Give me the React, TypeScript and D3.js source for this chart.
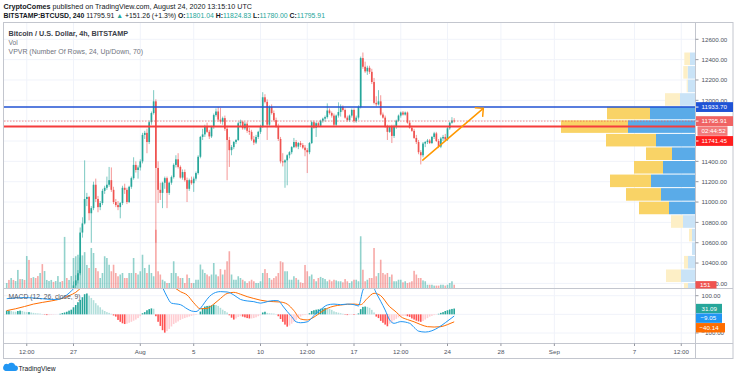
import React from 'react';
import * as d3 from 'd3';

// ---------- DATA ----------
const startTime = Date.UTC(2020, 6, 22, 0);
const barMs = 4 * 3600 * 1000;

const opens = [
  9380,9420,9400,9460,9440,9480,9540,9520,9570,9550,9640,9610,9600,9620,9580,9560,9590,9530,9550,9580,9600,9640,9620,9680,9700,9760,9740,9920,9880,9900,
  9930,10180,10230,10300,10700,10790,11030,11050,10890,10940,
  11170,11030,10950,10990,11110,11140,11170,11215,11120,11000,
  10970,10950,10990,11140,11120,11000,11150,11235,11365,11315,
  11340,11400,11660,11680,11590,11785,11875,11990,11335,11120,
  11090,11190,11235,11090,11190,11245,11365,11420,11345,11240,
  11295,11215,11130,11215,11185,11230,11285,11445,11640,11665,
  11740,11690,11645,11740,11855,11890,11810,11790,11825,11720,
  11610,11510,11540,11590,11610,11775,11790,11725,11770,11700,
  11690,11615,11585,11640,11690,11740,12030,11985,11760,11935,
  11875,11805,11745,11620,11400,11390,11410,11460,11490,11540,
  11590,11545,11580,11560,11535,11510,11490,11580,11785,11730,
  11775,11750,11800,11820,11835,11900,11875,11850,11760,11850,
  11885,11935,11905,11830,11805,11850,11905,11795,11830,11935,
  12415,12330,12285,12320,12280,12180,11975,11960,11990,11860,
  11830,11745,11690,11740,11650,11740,11800,11850,11880,11860,
  11880,11780,11730,11700,11630,11590,11490,11460,11575,11590,
  11605,11580,11640,11675,11600,11545,11625,11640,11615,11725,
  11780,11801.04,
];
const highs = [
  9440,9450,9480,9490,9500,9560,9560,9590,9590,9660,9680,9630,9640,9630,9600,9610,9600,9570,9600,9620,9660,9660,9700,9720,9780,9790,10000,9950,9930,9960,
  10220,10280,10330,10750,10850,11410,11090,11060,10960,11200,
  11230,11060,11010,11130,11160,11250,11345,11340,11150,11030,
  11010,11000,11160,11180,11140,11160,11250,11440,11400,11360,
  11420,11680,11700,11720,11800,11890,12100,12010,11400,11190,
  11200,11250,11250,11200,11260,11380,11460,11480,11360,11320,
  11320,11240,11230,11250,11250,11300,11460,11650,11720,11760,
  11780,11710,11750,11870,11920,11935,11925,11840,11850,11750,
  11640,11560,11600,11620,11790,11810,11800,11790,11790,11730,
  11710,11650,11660,11700,11760,12080,12060,12010,11950,11960,
  11900,11830,11770,11640,11480,11420,11470,11500,11550,11630,
  11610,11590,11600,11580,11560,11530,11590,11800,11800,11790,
  11790,11810,11830,11850,11970,11920,11890,11870,11860,11980,
  11960,11950,11920,11850,11860,11920,11920,11850,11950,12430,
  12470,12380,12340,12340,12310,12220,12040,12100,12050,11880,
  11850,11760,11750,11760,11760,11810,11860,11890,11895,11890,
  11890,11800,11750,11720,11660,11610,11510,11590,11600,11620,
  11620,11650,11690,11690,11620,11640,11660,11670,11740,11790,
  11835,11824.83,
];
const lows = [
  9360,9380,9390,9420,9430,9470,9500,9510,9530,9540,9580,9580,9590,9560,9540,9540,9500,9510,9540,9570,9590,9610,9610,9660,9690,9720,9730,9850,9860,9880,
  9900,10140,10200,10280,10650,10780,10960,10820,10600,10920,
  11000,10900,10920,10970,11080,11120,11150,11100,10980,10950,
  10920,10840,10970,11080,10980,10990,11130,11220,11290,11230,
  11310,11380,11620,11480,11570,11760,11860,10600,10990,11020,
  10940,11130,10940,11070,11170,11230,11340,11330,11230,11220,
  11200,11000,11110,11170,11100,11210,11270,11430,11610,11640,
  11680,11620,11630,11720,11840,11790,11770,11760,11700,11215,
  11345,11460,11520,11570,11600,11740,11710,11710,11680,11660,
  11600,11560,11570,11620,11670,11730,11970,11610,11740,11860,
  11790,11730,11600,11380,11350,11140,11165,11430,11470,11530,
  11530,11520,11540,11520,11450,11285,11470,11570,11720,11640,
  11740,11740,11780,11790,11820,11860,11830,11740,11740,11830,
  11840,11890,11820,11790,11790,11830,11780,11780,11810,11920,
  12310,12270,12250,12260,12160,11960,11940,11950,11850,11820,
  11730,11610,11680,11580,11630,11720,11790,11830,11850,11850,
  11770,11720,11690,11620,11570,11470,11370,11440,11540,11570,
  11570,11570,11620,11590,11530,11530,11600,11600,11600,11710,
  11770,11780,
];
const closes = [
  9420,9400,9460,9440,9480,9540,9520,9570,9550,9640,9610,9600,9620,9580,9560,9590,9530,9550,9580,9600,9640,9620,9680,9700,9760,9740,9920,9880,9900,9930,
  10180,10230,10300,10700,10790,11030,11050,10890,10940,11170,
  11030,10950,10990,11110,11140,11170,11215,11120,11000,10970,
  10950,10990,11140,11120,11000,11150,11235,11365,11315,11340,
  11400,11660,11680,11590,11785,11875,11990,11335,11120,11090,
  11190,11235,11090,11190,11245,11365,11420,11345,11240,11295,
  11215,11130,11215,11185,11230,11285,11445,11640,11665,11740,
  11690,11645,11740,11855,11890,11810,11790,11825,11720,11610,
  11510,11540,11590,11610,11775,11790,11725,11770,11700,11690,
  11615,11585,11640,11690,11740,12030,11985,11760,11935,11875,
  11805,11745,11620,11400,11390,11410,11460,11490,11540,11590,
  11545,11580,11560,11535,11510,11490,11580,11785,11730,11775,
  11750,11800,11820,11835,11900,11875,11850,11760,11850,11885,
  11935,11905,11830,11805,11850,11905,11795,11830,11935,12415,
  12330,12285,12320,12280,12180,11975,11960,11990,11860,11830,
  11745,11690,11740,11650,11740,11800,11850,11880,11860,11880,
  11780,11730,11700,11630,11590,11490,11460,11575,11590,11605,
  11580,11640,11675,11600,11545,11625,11640,11615,11725,11780,
  11801.04,11795.91,
];
const volumes = [
  230,370,460,370,320,830,410,410,370,1470,1290,460,500,460,550,690,1100,780,370,320,370,280,320,550,280,320,2350,460,370,550,
  1380,1460,1530,1400,1500,1650,1060,920,1840,1610,920,770,460,690,1460,1380,1070,770,1070,690,540,620,690,460,460,690,690,1380,690,620,
  770,1530,920,690,1070,690,540,2680,770,620,380,310,230,230,690,1230,690,540,460,460,230,620,460,230,230,380,380,1080,850,690,
  620,540,620,1150,620,540,870,620,840,1230,1690,620,380,380,540,460,380,310,230,310,380,310,230,230,310,690,870,690,460,380,
  460,540,690,1230,1180,770,770,380,380,540,460,380,260,230,1060,770,540,620,410,310,460,510,460,410,310,380,310,380,350,310,
  310,260,410,310,230,310,380,380,310,2380,840,310,380,460,460,1840,540,690,1300,690,620,690,510,620,310,310,380,380,260,310,
  230,260,310,790,620,460,460,350,310,150,150,150,110,110,110,150,150,110,150,230,310,151,
];
const macdHist = [
  20,20,18,15,14,18,20,18,14,12,12,10,8,6,5,4,2,-2,-4,-4,-3,-2,-1,0,3,7,10,14,20,25,
  38,50,65,78,92,108,112,100,88,76,60,48,38,25,18,12,8,3,-6,-12,-30,-40,-48,-52,-50,-45,-40,-34,-28,-20,
  -10,6,12,22,28,32,30,-10,-40,-62,-85,-98,-90,-78,-65,-52,-45,-38,-30,-24,-20,-16,-12,-8,-5,-3,0,15,32,42,
  45,46,48,52,50,45,35,25,18,10,-5,-18,-28,-22,-14,-10,-12,-16,-20,-22,-22,-20,-16,-10,-5,10,14,8,6,5,
  4,2,-10,-25,-40,-55,-66,-60,-50,-40,-30,-22,-12,-5,-4,-2,6,18,22,25,27,30,32,34,33,30,24,16,12,9,
  6,3,-2,-4,-3,-2,-3,-2,5,28,40,42,40,35,24,10,-12,-20,-35,-45,-55,-64,-50,-42,-32,-24,-16,-10,-8,-8,
  -10,-14,-22,-28,-34,-38,-40,-36,-28,-20,-12,-8,-4,-2,3,8,12,18,22,26,29,31.09,
];
const macdIdx = [0,4,8,12,16,20,23,25,27,29,31,34,38,44,50,56,62,66,68,70,72,74,76,78,81,83,85,87,89,91,93,96,99,102,105,108,111,114,117,120,122,124,126,128,130,132,135,139,141,144,147,150,153,156,158,160,162,164,166,168,170,172,174,177,181,183,185,188,191,194,197,201];
const macdVal = [84,88,90,88,84,80,80,88,104,125,150,200,260,270,240,220,230,230,200,145,95,60,56,52,30,18,15,32,65,95,113,122,120,104,80,72,68,60,68,74,73,45,15,-12,-40,-45,-40,6,25,50,55,52,55,52,45,130,165,160,114,70,23,-30,-48,-39,-48,-70,-90,-95,-88,-70,-45,-9.05];
const signalIdx = [0,4,8,12,16,20,24,28,31,34,38,44,50,56,62,66,70,72,74,76,78,81,84,87,90,93,96,99,102,105,108,111,114,117,120,123,126,129,132,135,138,141,144,147,150,153,156,159,162,165,168,172,175,177,180,183,186,189,192,195,198,201];
const signalVal = [20,30,42,55,64,72,82,100,118,150,200,240,250,240,220,215,200,170,150,138,122,104,62,30,32,55,85,112,118,108,95,85,76,70,68,66,55,20,-25,-30,-15,10,32,44,50,54,55,52,86,113,100,41,12,-12,-28,-40,-55,-66,-68,-66,-55,-40.14];

// Volume profile (visible range), 24 rows from top to bottom
const vpHigh = 12475;
const vpLow = 9275;
const vpUp = [500,730,730,1500,4500,6700,3900,2300,3200,4400,3400,2600,1200,300,300,700,1400,700,1200,2200,2000,2500,2200,1000];
const vpDown = [570,440,100,1500,4300,6700,5000,2600,2900,4100,3500,3000,1200,300,0,400,1500,400,1000,2000,1800,2500,2000,800];
const vpValueAreaRows = [4, 11];

const priceTicks = [10200,10400,10600,10800,11000,11200,11400,11600,11800,12000,12200,12400,12600];
const macdTicks = [100, 0, -100];
const macdAxisLabels = [100, -100];
const timeTickDates = [Date.UTC(2020,6,23,12),Date.UTC(2020,6,27),Date.UTC(2020,7,1),Date.UTC(2020,7,5),Date.UTC(2020,7,10),Date.UTC(2020,7,13,12),Date.UTC(2020,7,17),Date.UTC(2020,7,20,12),Date.UTC(2020,7,24),Date.UTC(2020,7,28),Date.UTC(2020,8,1),Date.UTC(2020,8,7),Date.UTC(2020,8,10,12)];
const timeTickLabels = ['12:00','27','Aug','5','10','12:00','17','12:00','24','28','Sep','7','12:00'];

const blueLevel = 11933.70;
const redLevel = 11741.45;
const countdown = '02:44:52';
const arrowStart = { t: Date.UTC(2020,7,22,3,30), p: 11412 };
const arrowEnd = { t: Date.UTC(2020,7,26,16,20), p: 11921 };

// ---------- STYLE ----------
const TEAL = '#26a69a';
const RED = '#ef5350';
const FONT = "'Liberation Sans', Arial, sans-serif";
const AXIS_TXT = '#4c525e';
const BORDER = '#c3c6ce';
const GRID = '#f0f3fa';

export default function App() {
  const xT = d3.scaleUtc().domain([Date.UTC(2020,6,27), Date.UTC(2020,8,7)]).range([73.5, 634.5]);
  const yP = d3.scaleLinear().domain([10200, 12600]).range([283.4, 39.3]);
  const yM = d3.scaleLinear().domain([-100, 100]).range([333, 295.7]);
  const yV = d3.scaleLinear().domain([0, 4600]).range([288, 188]);
  const xOf = (i: number) => xT(new Date(startTime + i * barMs));

  const rows = vpUp.length;
  const rowSize = (vpHigh - vpLow) / rows;
  const vpMax = d3.max(vpUp.map((u, i) => u + vpDown[i])) as number;
  const vpW = d3.scaleLinear().domain([0, vpMax]).range([0, 134]);

  const macdLine = d3.line<number>().x((d, k) => xOf(macdIdx[k])).y(d => yM(d)).curve(d3.curveMonotoneX);
  const sigLine = d3.line<number>().x((d, k) => xOf(signalIdx[k])).y(d => yM(d)).curve(d3.curveMonotoneX);

  const last = closes.length - 1;
  const lastClose = closes[last];
  const lastVol = volumes[last];
  const histLast = macdHist[last];
  const macdLast = macdVal[macdVal.length - 1];
  const sigLast = signalVal[signalVal.length - 1];

  // price labels with collision push
  const lh = 9.8;
  const blueTop = yP(blueLevel) - lh / 2;
  const curTop = Math.max(yP(lastClose) - lh / 2, blueTop + lh + 0.2);
  const redTop = Math.max(yP(redLevel) - lh / 2, curTop + 2 * lh + 0.3);
  const mh = 9.4;
  const hTop = yM(histLast) - mh / 2;
  const mTop = Math.max(yM(macdLast) - mh / 2, hTop + mh + 0.2);
  const sTop = Math.max(yM(sigLast) - mh / 2, mTop + mh + 0.2);

  const ax1 = xT(new Date(arrowStart.t)), ay1 = yP(arrowStart.p);
  const ax2 = xT(new Date(arrowEnd.t)), ay2 = yP(arrowEnd.p);
  const ang = Math.atan2(ay2 - ay1, ax2 - ax1);
  const hl = 8;
  const h1 = [ax2 - hl * Math.cos(ang - Math.PI / 4), ay2 - hl * Math.sin(ang - Math.PI / 4)];
  const h2 = [ax2 - hl * Math.cos(ang + Math.PI / 4), ay2 - hl * Math.sin(ang + Math.PI / 4)];

  const fmt = d3.format('.2f');

  return (
    <svg width={736} height={380} style={{ position: 'absolute', left: 0, top: 0, background: '#fff' }} fontFamily={FONT}>
      <defs>
        <clipPath id="pp"><rect x={4} y={23} width={691.5} height={265} /></clipPath>
        <clipPath id="mp"><rect x={4} y={289} width={691.5} height={54} /></clipPath>
      </defs>
      <rect x={0} y={0} width={736} height={380} fill="#fff" />

      {/* header */}
      <text x={3.5} y={8.6} fontSize={6.6} fill="#131722" textLength={248.5} lengthAdjust="spacingAndGlyphs">
        <tspan fontWeight="bold">CryptoComes</tspan>
        <tspan> published on TradingView.com, August 24, 2020 13:15:10 UTC</tspan>
      </text>
      <text x={3.5} y={17.6} fontSize={6.8} fill="#131722" textLength={321.5} lengthAdjust="spacingAndGlyphs">
        <tspan fontWeight="bold">BITSTAMP:BTCUSD, 240</tspan>
        <tspan> {fmt(lastClose)} </tspan>
        <tspan fill={TEAL}>▲</tspan>
        <tspan> +151.26 (+1.3%) </tspan>
        <tspan fontWeight="bold">O:</tspan><tspan fill={TEAL}>{fmt(opens[last])} </tspan>
        <tspan fontWeight="bold">H:</tspan><tspan fill={TEAL}>{fmt(highs[last])} </tspan>
        <tspan fontWeight="bold">L:</tspan><tspan fill={TEAL}>{fmt(lows[last])} </tspan>
        <tspan fontWeight="bold">C:</tspan><tspan fill={TEAL}>{fmt(closes[last])}</tspan>
      </text>

      {/* grid */}
      <g stroke={GRID} strokeWidth={1}>
        {timeTickDates.map((t, i) => (
          <line key={'vg' + i} x1={xT(new Date(t))} x2={xT(new Date(t))} y1={23} y2={343} />
        ))}
        {priceTicks.map((p, i) => (
          <line key={'hg' + i} x1={4} x2={695} y1={yP(p)} y2={yP(p)} />
        ))}
        {macdTicks.map((m, i) => (
          <line key={'mg' + i} x1={4} x2={695} y1={yM(m)} y2={yM(m)} />
        ))}
      </g>

      {/* price pane */}
      <g clipPath="url(#pp)">
        {volumes.map((v, i) => (
          <rect key={'v' + i} x={xOf(i) - 0.8} width={1.6} y={yV(v)} height={288 - yV(v)}
            fill={closes[i] >= opens[i] ? TEAL : RED} opacity={0.5} />
        ))}
        {closes.map((c, i) => {
          const col = c >= opens[i] ? TEAL : RED;
          const x = xOf(i);
          const top = yP(Math.max(c, opens[i]));
          const bot = yP(Math.min(c, opens[i]));
          return (
            <g key={'c' + i}>
              <line x1={x} x2={x} y1={yP(highs[i])} y2={yP(lows[i])} stroke={col} strokeWidth={0.8} opacity={0.75} />
              <rect x={x - 0.85} width={1.7} y={top} height={Math.max(0.8, bot - top)} fill={col} />
            </g>
          );
        })}
        {vpUp.map((u, r) => {
          const yTop = yP(vpHigh - r * rowSize);
          const yBot = yP(vpHigh - (r + 1) * rowSize);
          const inVA = r >= vpValueAreaRows[0] && r <= vpValueAreaRows[1];
          const wu = vpW(u);
          const wd = vpW(vpDown[r]);
          return (
            <g key={'vp' + r}>
              <rect x={695 - wu} width={wu} y={yTop + 0.5} height={yBot - yTop - 1} fill={inVA ? '#5aabe8' : '#c9e3f7'} />
              <rect x={695 - wu - wd} width={wd} y={yTop + 0.5} height={yBot - yTop - 1} fill={inVA ? '#f9d366' : '#fdefc6'} />
            </g>
          );
        })}
        <line x1={4} x2={695} y1={yP(blueLevel)} y2={yP(blueLevel)} stroke="#2152d3" strokeWidth={1.4} />
        <line x1={4} x2={695} y1={yP(redLevel)} y2={yP(redLevel)} stroke="#f53d3d" strokeWidth={2} />
        <line x1={4} x2={695} y1={yP(lastClose)} y2={yP(lastClose)} stroke={RED} strokeWidth={0.8} strokeDasharray="1.5,1.5" opacity={0.8} />
        <g stroke="#ff9800" strokeWidth={1.5} fill="none" strokeLinecap="round">
          <line x1={ax1} y1={ay1} x2={ax2} y2={ay2} />
          <polyline points={`${h1[0]},${h1[1]} ${ax2},${ay2} ${h2[0]},${h2[1]}`} />
        </g>
      </g>

      {/* legends */}
      <text x={8.5} y={35.5} fontSize={6.6} fontWeight="bold" fill="#3b3e48" textLength={119.5} lengthAdjust="spacingAndGlyphs">Bitcoin / U.S. Dollar, 4h, BITSTAMP</text>
      <text x={8.5} y={45} fontSize={6.6} fill="#70737e">Vol</text>
      <text x={8.5} y={54.4} fontSize={6.6} fill="#70737e" textLength={134.5} lengthAdjust="spacingAndGlyphs">VPVR (Number Of Rows, 24, Up/Down, 70)</text>

      {/* MACD pane */}
      <g clipPath="url(#mp)">
        {macdHist.map((h, i) => {
          const prev = i > 0 ? macdHist[i - 1] : h;
          const col = h >= 0 ? (h >= prev ? '#26a69a' : '#b2dfdb') : (h < prev ? '#ff5252' : '#ffcdd2');
          const y0 = yM(0), y1 = yM(h);
          return <rect key={'h' + i} x={xOf(i) - 0.8} width={1.6} y={Math.min(y0, y1)} height={Math.abs(y1 - y0)} fill={col} />;
        })}
        <path d={sigLine(signalVal) as string} fill="none" stroke="#ff6d00" strokeWidth={1} />
        <path d={macdLine(macdVal) as string} fill="none" stroke="#2196f3" strokeWidth={1} />
      </g>
      <text x={8.5} y={299.3} fontSize={6.6} fill="#555862" textLength={72} lengthAdjust="spacingAndGlyphs">MACD (12, 26, close, 9)</text>

      {/* frame */}
      <g stroke={BORDER} strokeWidth={1} fill="none">
        <rect x={3.5} y={22.5} width={729.5} height={336} />
        <line x1={695.5} x2={695.5} y1={22.5} y2={358.5} />
        <line x1={3.5} x2={733} y1={288.5} y2={288.5} />
        <line x1={3.5} x2={733} y1={343.5} y2={343.5} />
      </g>

      {/* price axis */}
      {priceTicks.map((p, i) => (
        <g key={'pt' + i}>
          <line x1={695.5} x2={698.5} y1={yP(p)} y2={yP(p)} stroke="#9598a1" />
          <text x={701.5} y={yP(p) + 2.2} fontSize={6.2} fill={AXIS_TXT}>{fmt(p)}</text>
        </g>
      ))}
      {macdAxisLabels.map((m, i) => (
        <g key={'ma' + i}>
          <line x1={695.5} x2={698.5} y1={yM(m)} y2={yM(m)} stroke="#9598a1" />
          <text x={701.5} y={yM(m) + 2.2} fontSize={6.2} fill={AXIS_TXT}>{fmt(m)}</text>
        </g>
      ))}

      {/* time axis */}
      {timeTickDates.map((t, i) => (
        <g key={'tt' + i}>
          <line x1={xT(new Date(t))} x2={xT(new Date(t))} y1={343.5} y2={346} stroke="#9598a1" />
          <text x={xT(new Date(t))} y={353.6} fontSize={6.2} fill={AXIS_TXT} textAnchor="middle">{timeTickLabels[i]}</text>
        </g>
      ))}

      {/* price labels */}
      <g fontSize={6.2} fill="#fff">
        <rect x={696} y={blueTop} width={37} height={lh} fill="#1f53d6" />
        <line x1={696} x2={698.5} y1={blueTop + lh / 2} y2={blueTop + lh / 2} stroke="#fff" />
        <text x={701.5} y={blueTop + 7.1}>{fmt(blueLevel)}</text>

        <rect x={696} y={curTop} width={37} height={lh} fill="#f06363" />
        <line x1={696} x2={698.5} y1={curTop + lh / 2} y2={curTop + lh / 2} stroke="#fff" />
        <text x={701.5} y={curTop + 7.1}>{fmt(lastClose)}</text>
        <rect x={697.5} y={curTop + lh + 0.4} width={30} height={lh - 0.4} fill="#f27a7a" />
        <text x={701.5} y={curTop + lh + 7.3}>{countdown}</text>

        <rect x={696} y={redTop} width={37} height={lh} fill="#ff1e1e" />
        <line x1={696} x2={698.5} y1={redTop + lh / 2} y2={redTop + lh / 2} stroke="#fff" />
        <text x={701.5} y={redTop + 7.1}>{fmt(redLevel)}</text>

        <rect x={695.5} y={yV(lastVol) - 3.6} width={21} height={7.4} fill={RED} />
        <text x={700} y={yV(lastVol) + 2.2}>{lastVol}</text>

        <rect x={696} y={hTop} width={26} height={mh} fill={TEAL} />
        <text x={701.5} y={hTop + 6.9}>{fmt(histLast)}</text>
        <rect x={696} y={mTop} width={26} height={mh} fill="#2196f3" />
        <text x={700.5} y={mTop + 6.9}>{fmt(macdLast)}</text>
        <rect x={696} y={sTop} width={29} height={mh} fill="#ff6d00" />
        <text x={699.5} y={sTop + 6.9}>{fmt(sigLast)}</text>
      </g>

      {/* TradingView logo */}
      <path d="M5.5,371 L15,371 A2.8,2.8 0 0 0 15.3,365.4 A4.2,4.2 0 0 0 8.2,364.2 A3.4,3.4 0 0 0 5.5,371 Z" fill="#2196f3" />
      <text x={18.5} y={370.6} fontSize={7} fill="#131722" textLength={37} lengthAdjust="spacingAndGlyphs">TradingView</text>
    </svg>
  );
}
